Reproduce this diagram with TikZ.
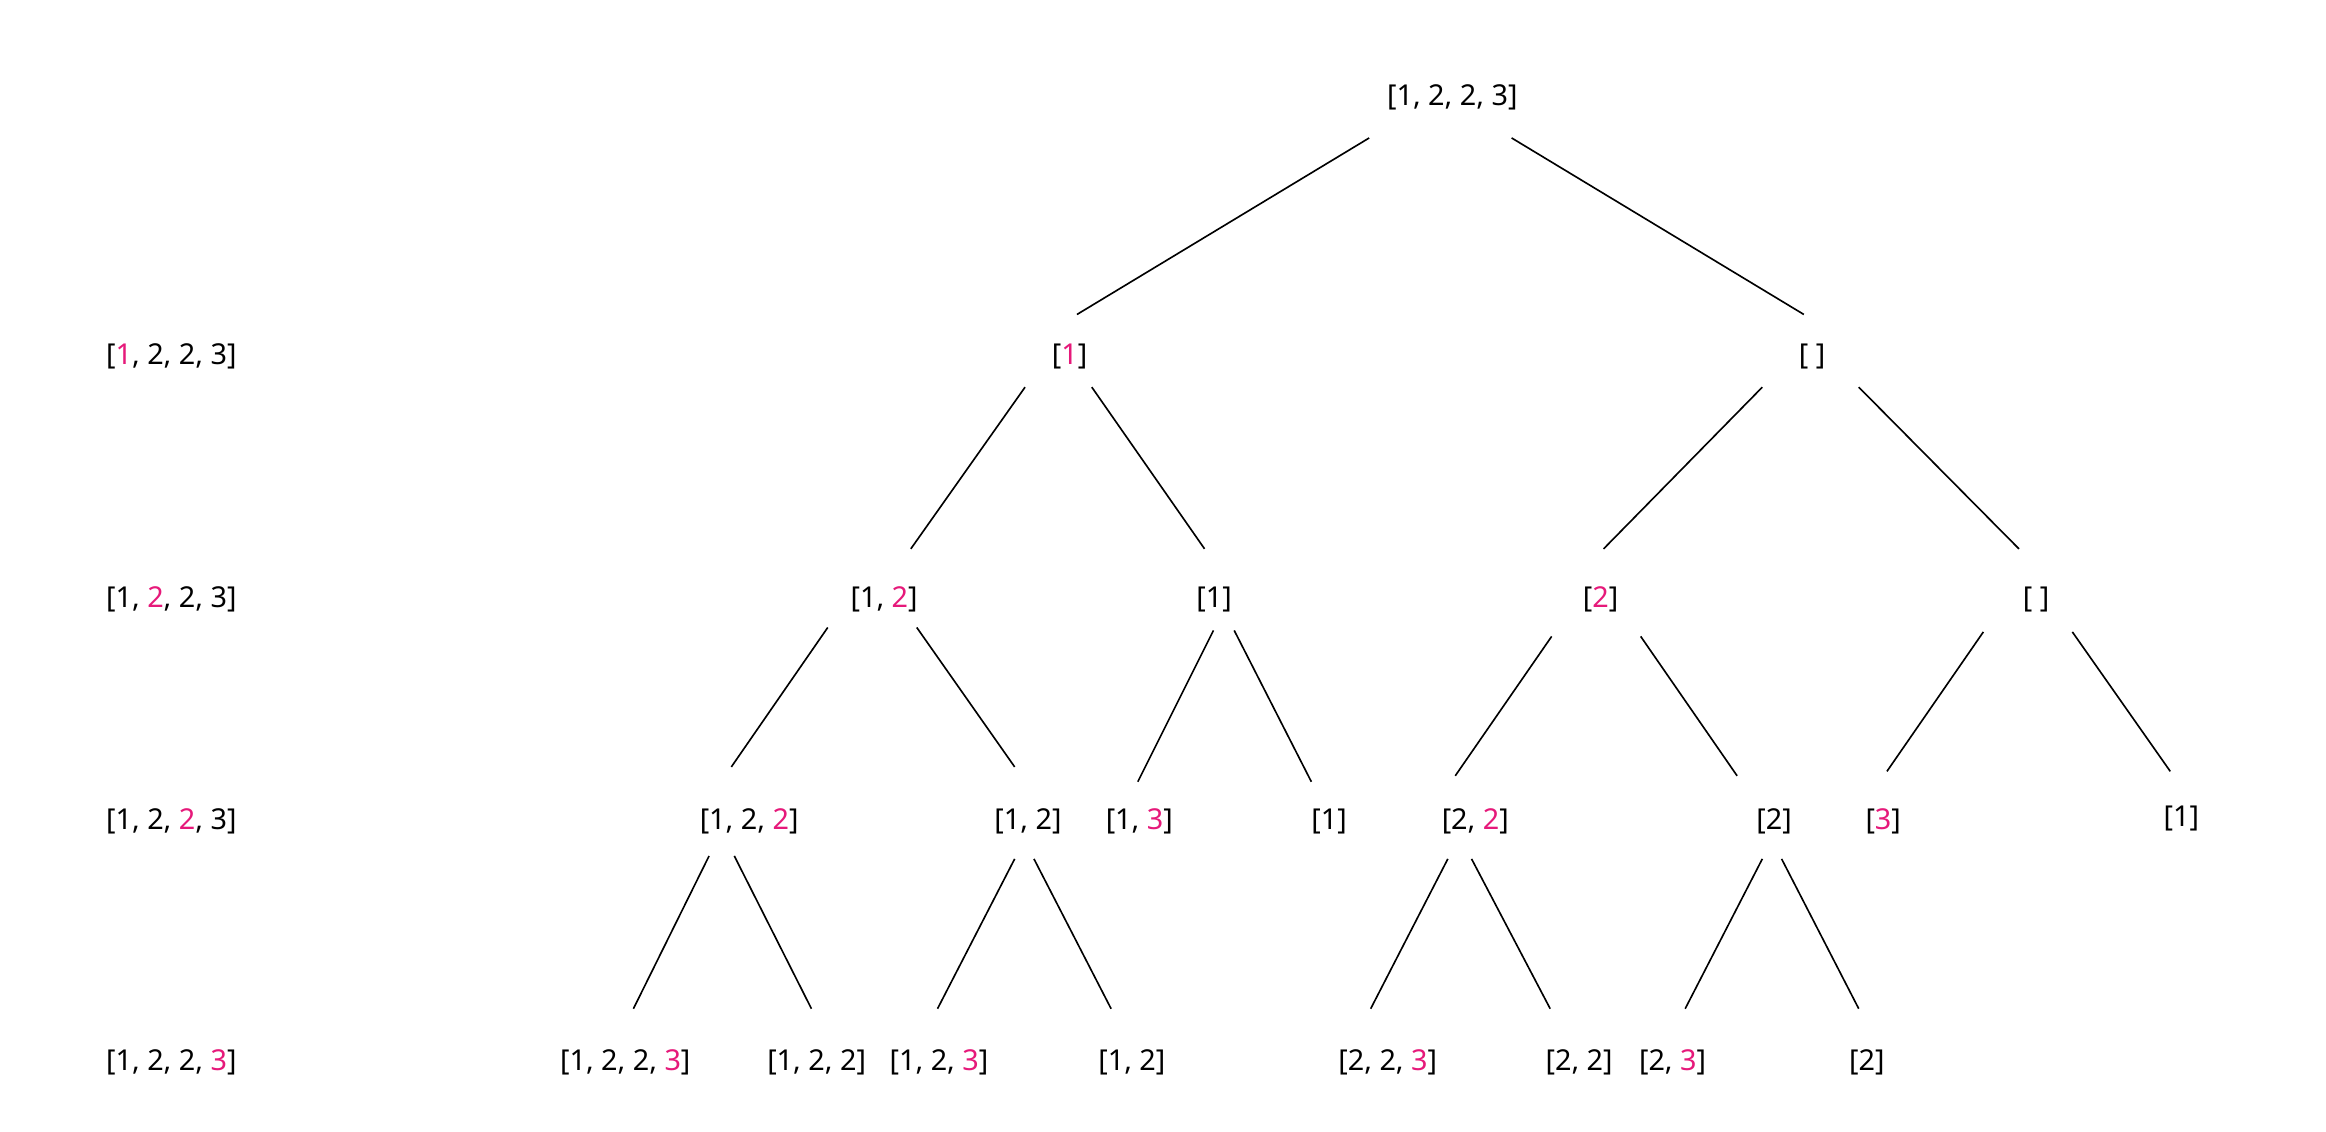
\documentclass[tikz,border=0pt]{standalone}
\usepackage{fontspec}
\setmainfont{Noto Sans}
\usetikzlibrary{calc}
\definecolor{hlpink}{RGB}{230,25,122}
\newcommand\hlc[1]{\textcolor{hlpink}{#1}}
\begin{document}
\begin{tikzpicture}[x=0.5pt,y=-0.5pt,
  lbl/.style={inner sep=0pt,font=\fontsize{9.7pt}{11.5pt}\selectfont},
  edge/.style={line width=0.55pt,black}]
\useasboundingbox[fill=white] (0,0) rectangle (1568,763);
% left column
\node[lbl] (r1) at (115.5,240) {[\hlc{1}, 2, 2, 3]};
\node[lbl] (r2) at (115.5,404) {[1, \hlc{2}, 2, 3]};
\node[lbl] (r3) at (115.5,554) {[1, 2, \hlc{2}, 3]};
\node[lbl] (r4) at (115.5,716) {[1, 2, 2, \hlc{3}]};
% tree
\node[lbl] (T) at (979,65.5) {[1, 2, 2, 3]};
\node[lbl] (A) at (721,240) {[\hlc{1}]};
\node[lbl] (B) at (1221.5,240) {[ ]};
\node[lbl] (C) at (596,404) {[1, \hlc{2}]};
\node[lbl] (D) at (818.5,404) {[1]};
\node[lbl] (E) at (1079,404) {[\hlc{2}]};
\node[lbl] (F) at (1372.5,404) {[ ]};
\node[lbl] (G) at (505,554) {[1, 2, \hlc{2}]};
\node[lbl] (H) at (693,554) {[1, 2]};
\node[lbl] (I) at (768,554) {[1, \hlc{3}]};
\node[lbl] (J) at (896,554) {[1]};
\node[lbl] (K) at (994.5,554) {[2, \hlc{2}]};
\node[lbl] (L) at (1196,554) {[2]};
\node[lbl] (M) at (1269.5,554) {[\hlc{3}]};
\node[lbl] (N) at (1470.5,552) {[1]};
\node[lbl] (O) at (421.5,716) {[1, 2, 2, \hlc{3}]};
\node[lbl] (P) at (550.5,716) {[1, 2, 2]};
\node[lbl] (Q) at (633,716) {[1, 2, \hlc{3}]};
\node[lbl] (R) at (763,716) {[1, 2]};
\node[lbl] (S) at (935.5,716) {[2, 2, \hlc{3}]};
\node[lbl] (U) at (1064.5,716) {[2, 2]};
\node[lbl] (V) at (1127.5,716) {[2, \hlc{3}]};
\node[lbl] (W) at (1258.5,716) {[2]};
% edges
\draw[edge] ($(T)+(-56,27.5)$) -- ($(A)+(5,-28)$);
\draw[edge] ($(T)+(40,27.5)$) -- ($(B)+(-5.5,-28)$);
\draw[edge] ($(A)+(-30,21)$) -- ($(C)+(18,-34)$);
\draw[edge] ($(A)+(15,21)$) -- ($(D)+(-6.5,-34)$);
\draw[edge] ($(B)+(-33.5,21)$) -- ($(E)+(2,-34)$);
\draw[edge] ($(B)+(31.5,21)$) -- ($(F)+(-11.5,-34)$);
\draw[edge] ($(C)+(-38,19)$) -- ($(G)+(-12,-37)$);
\draw[edge] ($(C)+(22,19)$) -- ($(H)+(-9,-37)$);
\draw[edge] ($(D)+(-0.5,21)$) -- ($(I)+(-1,-27)$);
\draw[edge] ($(D)+(13.5,21)$) -- ($(J)+(-12,-27)$);
\draw[edge] ($(E)+(-33,25)$) -- ($(K)+(-13.5,-31)$);
\draw[edge] ($(E)+(27,25)$) -- ($(L)+(-25,-31)$);
\draw[edge] ($(F)+(-35.5,22)$) -- ($(M)+(2.5,-34)$);
\draw[edge] ($(F)+(24.5,22)$) -- ($(N)+(-7.5,-32)$);
\draw[edge] ($(G)+(-27,23)$) -- ($(O)+(5.5,-36)$);
\draw[edge] ($(G)+(-10,23)$) -- ($(P)+(-3.5,-36)$);
\draw[edge] ($(H)+(-9,25)$) -- ($(Q)+(-1,-36)$);
\draw[edge] ($(H)+(4,25)$) -- ($(R)+(-14,-36)$);
\draw[edge] ($(K)+(-18.5,25)$) -- ($(S)+(-11.5,-36)$);
\draw[edge] ($(K)+(-2.5,25)$) -- ($(U)+(-19.5,-36)$);
\draw[edge] ($(L)+(-8,25)$) -- ($(V)+(8.5,-36)$);
\draw[edge] ($(L)+(5,25)$) -- ($(W)+(-5.5,-36)$);
\end{tikzpicture}
\end{document}
